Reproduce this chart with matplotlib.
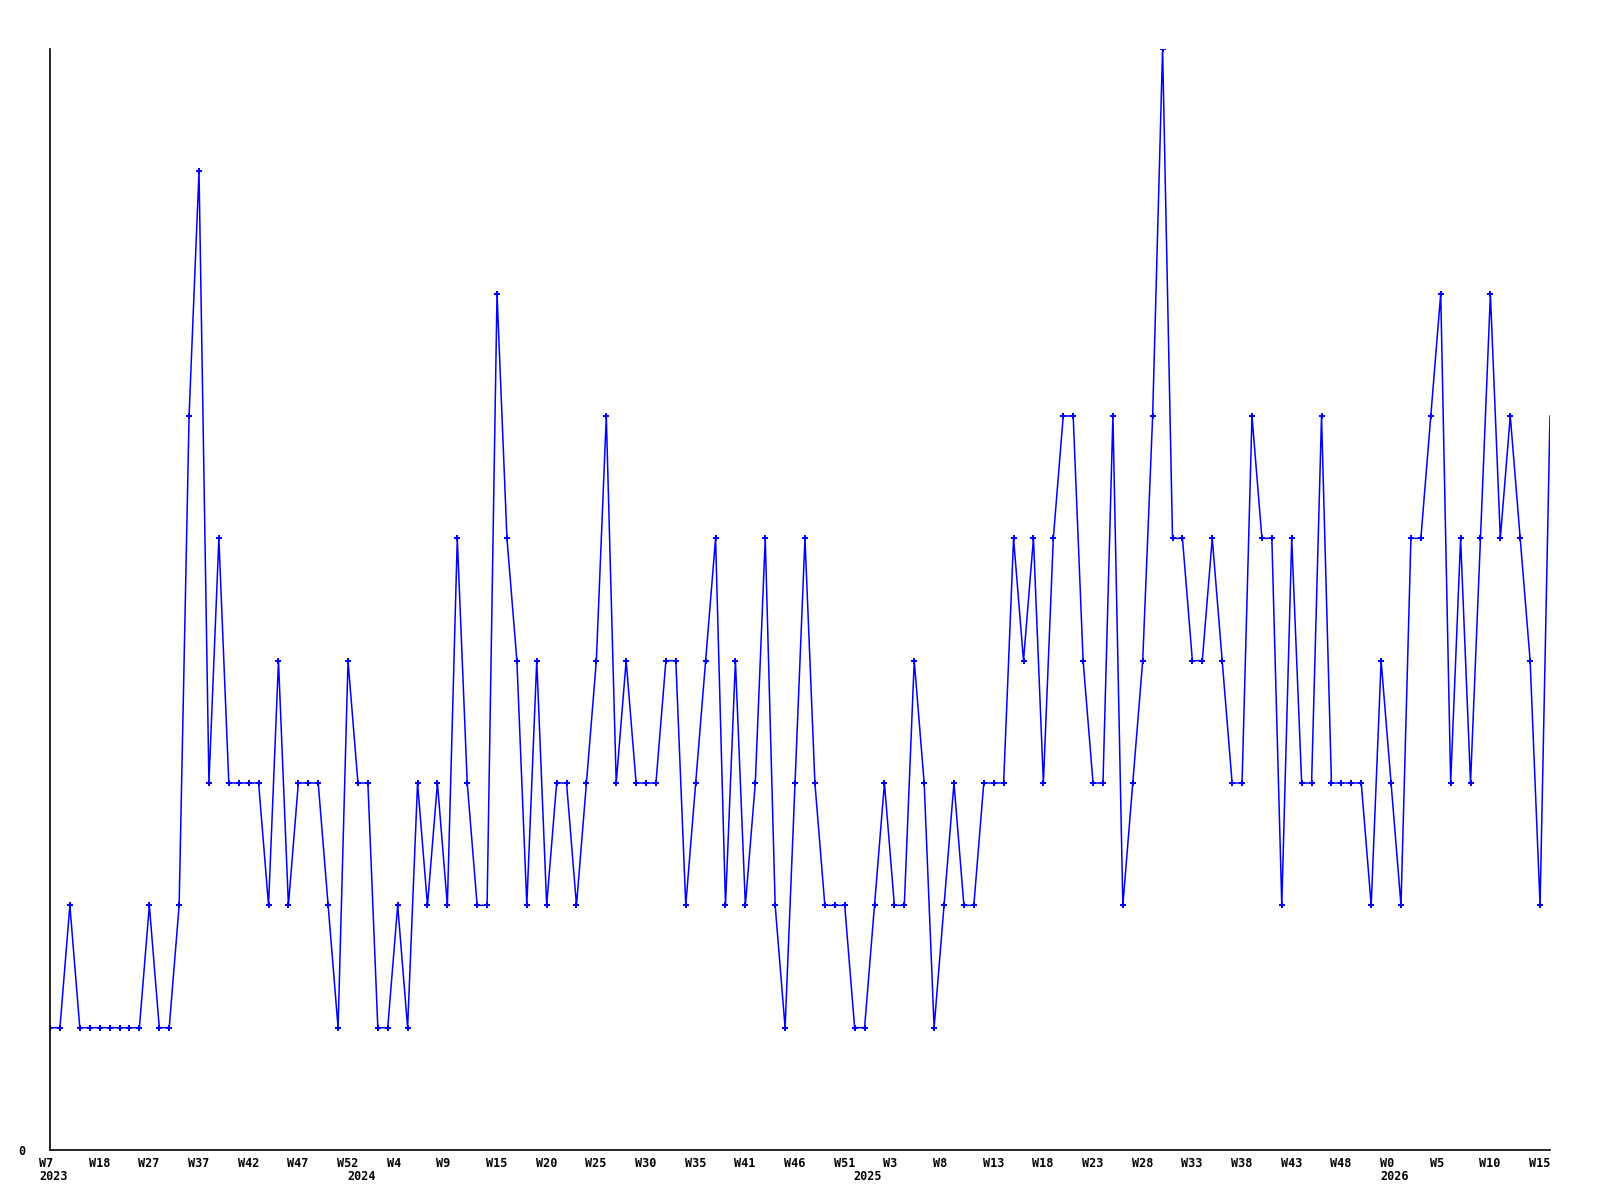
import matplotlib
matplotlib.use('Agg')
import matplotlib.pyplot as plt
import matplotlib.transforms as mtransforms

# weekly counts, one per point
counts = [1, 1, 2, 1, 1, 1, 1, 1, 1, 1,
          2, 1, 1, 2, 6, 8, 3, 5, 3, 3,
          3, 3, 2, 4, 2, 3, 3, 3, 2, 1,
          4, 3, 3, 1, 1, 2, 1, 3, 2, 3,
          2, 5, 3, 2, 2, 7, 5, 4, 2, 4,
          2, 3, 3, 2, 3, 4, 6, 3, 4, 3,
          3, 3, 4, 4, 2, 3, 4, 5, 2, 4,
          2, 3, 5, 2, 1, 3, 5, 3, 2, 2,
          2, 1, 1, 2, 3, 2, 2, 4, 3, 1,
          2, 3, 2, 2, 3, 3, 3, 5, 4, 5,
          3, 5, 6, 6, 4, 3, 3, 6, 2, 3,
          4, 6, 9, 5, 5, 4, 4, 5, 4, 3,
          3, 6, 5, 5, 2, 5, 3, 3, 6, 3,
          3, 3, 3, 2, 4, 3, 2, 5, 5, 6,
          7, 3, 5, 3, 5, 7, 5, 6, 5, 4,
          2, 6]

week_labels = ['W7', 'W18', 'W27', 'W37', 'W42', 'W47', 'W52', 'W4', 'W9', 'W15',
               'W20', 'W25', 'W30', 'W35', 'W41', 'W46', 'W51', 'W3', 'W8', 'W13',
               'W18', 'W23', 'W28', 'W33', 'W38', 'W43', 'W48', 'W0', 'W5', 'W10',
               'W15']
year_labels = ['2023', '2024', '2025', '2026']
year_pos = [0, 31, 82, 135]

xs = list(range(len(counts)))

fig = plt.figure(figsize=(16, 12), dpi=100)
ax = fig.add_axes([50 / 1600, 50 / 1200, 1500 / 1600, 1101 / 1200])

# last (current) week has no marker in the original
ax.plot(xs, counts, color='#0000ff', lw=1.1, marker='P', ms=4.5, mew=0,
        markevery=list(range(len(counts) - 1)))

ax.set_xlim(0, len(counts) - 1)
ax.set_ylim(0, 9)

for side in ['top', 'right']:
    ax.spines[side].set_visible(False)
for side in ['left', 'bottom']:
    ax.spines[side].set_color('black')
    ax.spines[side].set_linewidth(1.2)

font = dict(family='DejaVu Sans Mono', weight='bold', size=8.5)

ax.set_yticks([0])
ax.set_yticklabels(['0'], **font)
ax.tick_params(axis='y', length=0, pad=18)

ax.set_xticks(xs[::5])
ax.set_xticklabels(week_labels, ha='left', **font)
ax.tick_params(axis='x', length=0, pad=5)
shift = mtransforms.ScaledTranslation(-0.11, 0, fig.dpi_scale_trans)
for lbl in ax.get_xticklabels():
    lbl.set_transform(lbl.get_transform() + shift)

trans = mtransforms.blended_transform_factory(ax.transData, fig.transFigure) + shift
for pos, yr in zip(year_pos, year_labels):
    ax.text(pos, 1 - 1177 / 1200, yr, transform=trans, ha='left', va='center', **font)

fig.savefig('out.png', dpi=100)
